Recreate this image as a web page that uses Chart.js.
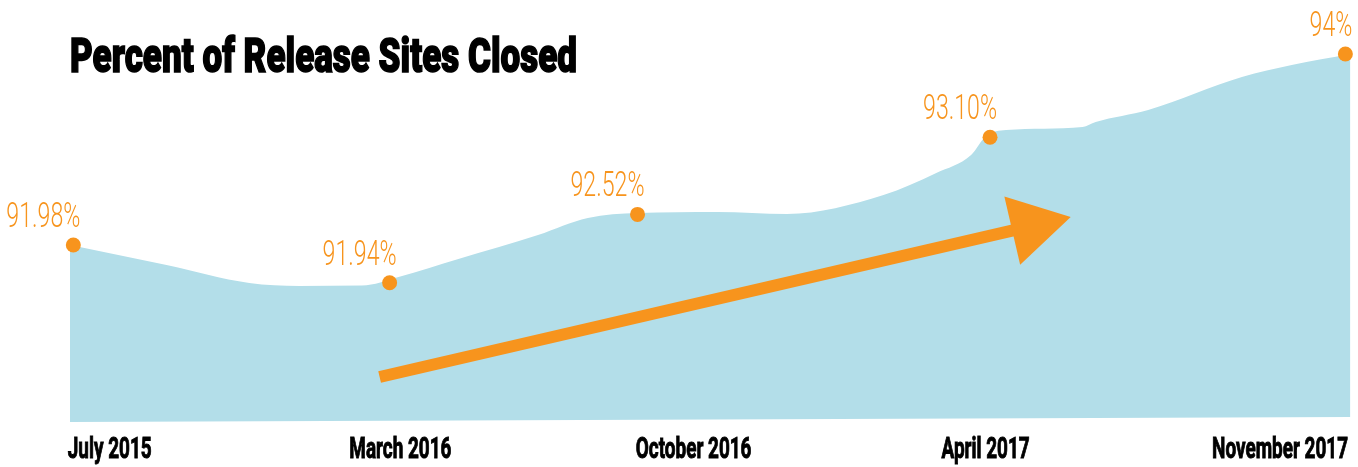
<!DOCTYPE html>
<html>
<head>
<meta charset="utf-8">
<title>Percent of Release Sites Closed</title>
<script src="https://cdn.jsdelivr.net/npm/chart.js@4.4.1/dist/chart.umd.min.js"></script>
<style>
    html, body { margin: 0; padding: 0; background: #ffffff; }
    .chart-container { position: relative; width: 1358px; height: 467px; }
</style>
</head>
<body>
<div class="chart-container">
    <canvas id="closedChart"></canvas>
</div>
<script>
// Dates with their release-site closure percentages
const periods = ['July 2015', 'March 2016', 'October 2016', 'April 2017', 'November 2017'];
const percentLabels = ['91.98%', '91.94%', '92.52%', '93.10%', '94%'];

// Where each point sits in the picture (timeline position 0-100, drawn level 0-100)
const pointPos = [0.26, 24.96, 44.32, 71.85, 99.6];
const pointLevel = [44.25, 34.8, 51.9, 71.2, 92];

// Where each period label is centred on the timeline
const periodLabelPos = [3.1, 25.8, 48.7, 71.5, 94.5];

// Outline of the shaded area
const areaPos = [0, 7.54, 14.0, 17.9, 22.8, 25.66, 30.33, 36.55, 40.44, 44.32, 50.54, 55.99,
    63.53, 67.65, 70.37, 71.54, 73.1, 79.08, 80.1, 84.2, 91.52, 95.41, 100];
const areaLevel = [44.25, 39.25, 34.75, 34, 34.1, 36.25, 40.75, 46.75, 51, 52.25, 52.5, 52,
    56.75, 62.25, 66.75, 71.5, 73, 73.75, 75, 78, 86.25, 89.25, 92];

// Bottom edge of the shaded area (slightly tilted)
const basePos = [0, 100];
const baseLevel = [0, 1.25];

const BLUE = '#b3dee9';
const ORANGE = '#f7941d';

const toPoints = (xs, ys) => xs.map((x, i) => ({ x, y: ys[i] }));

// Draw text squeezed horizontally to mimic a condensed typeface
function drawCondensed(ctx, text, x, y, font, sx, align, color) {
    ctx.save();
    ctx.font = font;
    ctx.fillStyle = color;
    ctx.textAlign = align;
    ctx.textBaseline = 'alphabetic';
    ctx.translate(x, y);
    ctx.scale(sx, 1);
    ctx.fillText(text, 0, 0);
    ctx.restore();
}

function widthOf(ctx, text, font) {
    ctx.save();
    ctx.font = font;
    const w = ctx.measureText(text).width;
    ctx.restore();
    return w;
}

const decorations = {
    id: 'decorations',
    afterDatasetsDraw(chart) {
        const { ctx, scales: { x, y } } = chart;

        // Trend arrow
        const x0 = x.getPixelForValue(24.18), y0 = y.getPixelForValue(11.25);
        const x1 = x.getPixelForValue(78.15), y1 = y.getPixelForValue(51.25);
        const ang = Math.atan2(y1 - y0, x1 - x0);
        const headLen = 60, headHalf = 35, shaft = 12;
        const bx = x1 - headLen * Math.cos(ang), by = y1 - headLen * Math.sin(ang);
        ctx.save();
        ctx.strokeStyle = ORANGE;
        ctx.fillStyle = ORANGE;
        ctx.lineWidth = shaft;
        ctx.lineCap = 'butt';
        ctx.beginPath();
        ctx.moveTo(x0, y0);
        ctx.lineTo(bx + 2 * Math.cos(ang), by + 2 * Math.sin(ang));
        ctx.stroke();
        ctx.beginPath();
        ctx.moveTo(x1, y1);
        ctx.lineTo(bx - headHalf * Math.sin(ang), by + headHalf * Math.cos(ang));
        ctx.lineTo(bx + headHalf * Math.sin(ang), by - headHalf * Math.cos(ang));
        ctx.closePath();
        ctx.fill();
        ctx.restore();
    },
    afterDraw(chart) {
        const { ctx, scales: { x, y } } = chart;

        // Title
        const titleText = 'Percent of Release Sites Closed';
        const titleFont = '900 48px Roboto, "DejaVu Sans", sans-serif';
        const titleSx = 507 / widthOf(ctx, titleText, titleFont);
        ctx.save();
        ctx.strokeStyle = '#000';
        ctx.lineWidth = 1.6;
        ctx.font = titleFont;
        ctx.translate(70, 72);
        ctx.scale(titleSx, 1);
        ctx.fillStyle = '#000';
        ctx.fillText(titleText, 0, 0);
        ctx.strokeText(titleText, 0, 0);
        ctx.restore();

        // Percent labels above the points
        const valFont = '300 35px Roboto, "DejaVu Sans", sans-serif';
        const valSx = 74 / widthOf(ctx, '93.10%', valFont);
        percentLabels.forEach((lbl, i) => {
            const px = x.getPixelForValue(pointPos[i]);
            const py = y.getPixelForValue(pointLevel[i]);
            drawCondensed(ctx, lbl, Math.min(px + 7, chart.width - 1), py - 18, valFont, valSx, 'right', ORANGE);
        });

        // Period labels under the area
        const axFont = 'bold 30px Roboto, "DejaVu Sans", sans-serif';
        const axSx = 136 / widthOf(ctx, 'November 2017', axFont);
        periods.forEach((p, i) => {
            const px = x.getPixelForValue(periodLabelPos[i]);
            ctx.save();
            ctx.strokeStyle = '#000';
            ctx.lineWidth = 1;
            ctx.font = axFont;
            ctx.textAlign = 'center';
            ctx.translate(px, 458);
            ctx.scale(axSx, 1);
            ctx.fillStyle = '#000';
            ctx.fillText(p, 0, 0);
            ctx.strokeText(p, 0, 0);
            ctx.restore();
        });
    }
};

const ctx = document.getElementById('closedChart').getContext('2d');
new Chart(ctx, {
    type: 'line',
    data: {
        datasets: [
            {
                label: 'area',
                data: toPoints(areaPos, areaLevel),
                borderWidth: 0,
                pointRadius: 0,
                cubicInterpolationMode: 'monotone',
                backgroundColor: BLUE,
                fill: 1,
                order: 3
            },
            {
                label: 'base',
                data: toPoints(basePos, baseLevel),
                borderWidth: 0,
                pointRadius: 0,
                fill: false,
                order: 2
            },
            {
                label: 'Percent closed',
                data: toPoints(pointPos, pointLevel),
                showLine: false,
                pointRadius: 7.5,
                pointHoverRadius: 7.5,
                pointBackgroundColor: ORANGE,
                pointBorderWidth: 0,
                clip: false,
                order: 1
            }
        ]
    },
    options: {
        responsive: true,
        maintainAspectRatio: false,
        animation: false,
        layout: { padding: { left: 70, right: 2, top: 22, bottom: 45 } },
        scales: {
            x: { type: 'linear', min: 0, max: 100, display: false },
            y: { type: 'linear', min: 0, max: 100, display: false }
        },
        plugins: {
            legend: { display: false },
            tooltip: { enabled: false }
        }
    },
    plugins: [decorations]
});
</script>
</body>
</html>
